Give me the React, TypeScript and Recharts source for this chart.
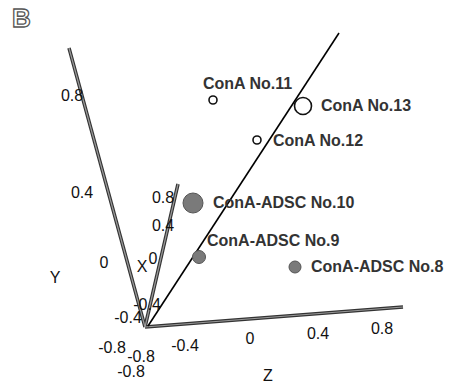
import { ReferenceLine, Scatter, ScatterChart, XAxis, YAxis } from "recharts"

// projected positions in the page plane (0..450 across, 0..389 down)
const sampleNames = ["ConA No.11", "ConA No.13", "ConA No.12", "ConA-ADSC No.10", "ConA-ADSC No.9", "ConA-ADSC No.8"]
const sampleGroup = ["ConA", "ConA", "ConA", "ConA-ADSC", "ConA-ADSC", "ConA-ADSC"]
const sampleU = [213, 303, 257, 193, 199, 295]
const sampleV = [100, 106, 140, 203, 257, 267]
const sampleR = [4, 8.5, 4, 10, 6.5, 6]
const labelU = [203, 321, 273, 213, 207, 311]
const labelV = [83, 105, 140, 202, 240, 266]

const axisNames = ["Y", "X", "Z"]
const axisStart = [
  [145, 327],
  [145, 327],
  [145, 327],
]
const axisEnd = [
  [69, 48],
  [178, 184],
  [403, 307],
]
const axisTitleAt = [
  [55, 277],
  [142, 266],
  [268, 375],
]
const loadingLine = [
  [148, 326],
  [339, 33],
]

const tickValues = ["0.8", "0.4", "0", "-0.4", "-0.8"]
const yTickAt = [
  [72, 95],
  [82, 192],
  [104, 262],
  [128, 317],
  [112, 347],
]
const xTickAt = [
  [163, 197],
  [163, 225],
  [153, 258],
  [147, 304],
  [141, 356],
]
const zTickValues = ["-0.8", "-0.4", "0", "0.4", "0.8"]
const zTickAt = [
  [131, 371],
  [185, 345],
  [250, 338],
  [318, 333],
  [382, 328],
]

const points = sampleNames.map((name, i) => ({
  name,
  group: sampleGroup[i],
  u: sampleU[i],
  v: sampleV[i],
  r: sampleR[i],
}))
const pointLabels = sampleNames.map((name, i) => ({ text: name, u: labelU[i], v: labelV[i] }))

const ticks = [
  ...tickValues.map((t, i) => ({ text: t, u: yTickAt[i][0], v: yTickAt[i][1] })),
  ...tickValues.map((t, i) => ({ text: t, u: xTickAt[i][0], v: xTickAt[i][1] })),
  ...zTickValues.map((t, i) => ({ text: t, u: zTickAt[i][0], v: zTickAt[i][1] })),
]
const titles = axisNames.map((n, i) => ({ text: n, u: axisTitleAt[i][0], v: axisTitleAt[i][1] }))

const font = "'Liberation Sans', Arial, sans-serif"

function Dot(props: any) {
  const { cx, cy, payload } = props
  const open = payload.group === "ConA"
  return (
    <circle
      cx={cx}
      cy={cy}
      r={payload.r}
      fill={open ? "#fff" : "#7a7a7a"}
      stroke={open ? "#111" : "#555"}
      strokeWidth={open ? 1.6 : 1}
    />
  )
}

function TextMark(anchor: "start" | "middle", size: number, weight: number, color: string) {
  return (props: any) => (
    <text
      x={props.cx}
      y={props.cy}
      textAnchor={anchor}
      dominantBaseline="central"
      fontFamily={font}
      fontSize={size}
      fontWeight={weight}
      fill={color}
    >
      {props.payload.text}
    </text>
  )
}

export default function App() {
  return (
    <div style={{ position: "absolute", left: 0, top: 0, width: 450, height: 389, background: "#fff" }}>
      <ScatterChart width={450} height={389} margin={{ top: 0, right: 0, bottom: 0, left: 0 }}>
        <XAxis type="number" dataKey="u" domain={[0, 450]} hide />
        <YAxis type="number" dataKey="v" domain={[0, 389]} reversed hide />
        {axisNames.map((n, i) => (
          <ReferenceLine
            key={n + "o"}
            segment={[
              { x: axisStart[i][0], y: axisStart[i][1] },
              { x: axisEnd[i][0], y: axisEnd[i][1] },
            ]}
            stroke="#333"
            strokeWidth={3.5}
            ifOverflow="visible"
          />
        ))}
        {axisNames.map((n, i) => (
          <ReferenceLine
            key={n + "i"}
            segment={[
              { x: axisStart[i][0], y: axisStart[i][1] },
              { x: axisEnd[i][0], y: axisEnd[i][1] },
            ]}
            stroke="#9a9a9a"
            strokeWidth={1.2}
            ifOverflow="visible"
          />
        ))}
        <ReferenceLine
          segment={[
            { x: loadingLine[0][0], y: loadingLine[0][1] },
            { x: loadingLine[1][0], y: loadingLine[1][1] },
          ]}
          stroke="#000"
          strokeWidth={1.6}
          ifOverflow="visible"
        />
        <Scatter data={points} shape={Dot} isAnimationActive={false} />
        <Scatter data={pointLabels} shape={TextMark("start", 16, 700, "#333")} isAnimationActive={false} />
        <Scatter data={ticks} shape={TextMark("middle", 16, 400, "#111")} isAnimationActive={false} />
        <Scatter data={titles} shape={TextMark("middle", 16, 400, "#111")} isAnimationActive={false} />
      </ScatterChart>
      <div
        style={{
          position: "absolute",
          left: 12,
          top: 3,
          fontFamily: font,
          fontSize: 26,
          fontWeight: 700,
          lineHeight: "30px",
          color: "#fff",
          WebkitTextStroke: "1.3px #555",
        }}
      >
        B
      </div>
    </div>
  )
}
